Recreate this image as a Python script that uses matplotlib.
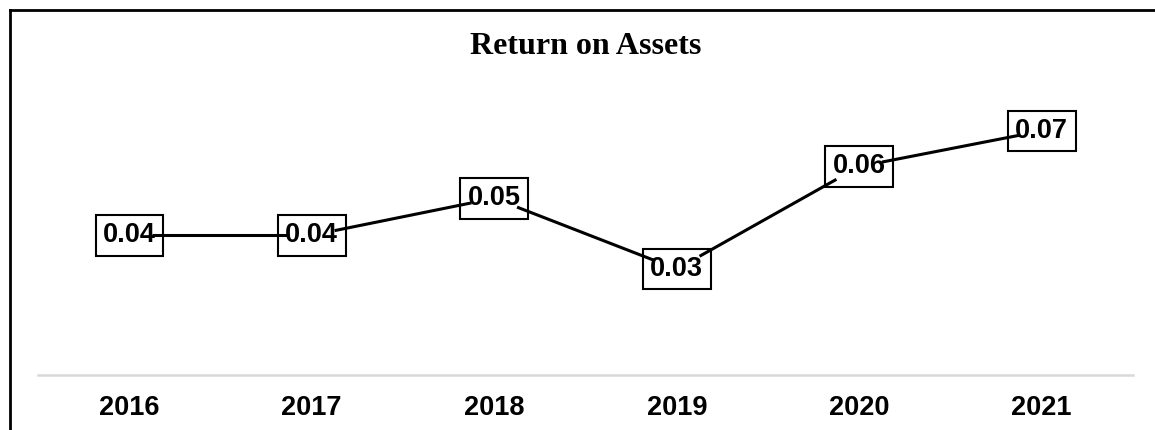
import numpy as np
import matplotlib
matplotlib.use("Agg")
import matplotlib.pyplot as plt
from matplotlib.lines import Line2D

years = ["2016", "2017", "2018", "2019", "2020", "2021"]
roa = [0.0399, 0.0399, 0.0505, 0.0302, 0.0596, 0.0698]
title = "Return on Assets"


def draw_chart():
    fig = plt.figure(figsize=(11.55, 4.3), dpi=100)
    ax = fig.add_axes([38 / 1155, 55.5 / 430, 1095 / 1155, 279.2 / 430])

    x = np.arange(len(years))
    y = np.array(roa)

    # segments stop short of the points, the label boxes sit on the points
    gap = 0.125
    for i in range(len(x) - 1):
        dx, dy = x[i + 1] - x[i], y[i + 1] - y[i]
        ax.plot([x[i] + gap * dx, x[i + 1] - gap * dx],
                [y[i] + gap * dy, y[i + 1] - gap * dy],
                color="black", lw=2.2, solid_capstyle="butt", zorder=3)

    for xi, yi in zip(x, y):
        ax.text(xi, yi, f"{yi:.2f}", ha="center", va="center",
                fontsize=19.5, fontweight="bold", family="Liberation Sans",
                bbox=dict(boxstyle="square,pad=0.27", fc="white",
                          ec="black", lw=1.5), zorder=2)

    ax.set_xlim(-0.5, len(years) - 0.5)
    ax.set_ylim(0, 0.08)
    ax.set_xticks(x)
    ax.set_xticklabels(years, fontsize=19.5, fontweight="bold",
                       family="Liberation Sans")
    ax.tick_params(axis="x", length=0, pad=15)
    ax.set_yticks([])
    for side in ["top", "left", "right"]:
        ax.spines[side].set_visible(False)
    ax.spines["bottom"].set_color("#d9d9d9")
    ax.spines["bottom"].set_linewidth(1.8)

    fig.text(586 / 1155, 1 - 47 / 430, title, ha="center", va="center",
             fontsize=23, fontweight="bold", family="Liberation Serif")

    # chart border (only top and left edges fall inside the crop)
    bx, by = 10 / 1155, 1 - 9.5 / 430
    fig.add_artist(Line2D([bx, bx], [0, by], color="black", lw=2.0,
                          transform=fig.transFigure))
    fig.add_artist(Line2D([bx, 1], [by, by], color="black", lw=2.0,
                          transform=fig.transFigure))

    fig.savefig("out.png", dpi=100)


if __name__ == "__main__":
    draw_chart()
